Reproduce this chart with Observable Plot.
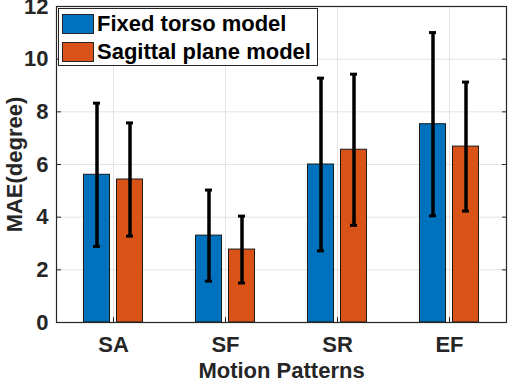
<!DOCTYPE html>
<html><head><meta charset="utf-8">
<script src="https://cdn.jsdelivr.net/npm/d3@7"></script>
<script src="https://cdn.jsdelivr.net/npm/@observablehq/plot@0.6"></script>
<style>
body{margin:0;background:#fff;}
#wrap{position:relative;width:512px;height:380px;font-family:"Liberation Sans",Arial,sans-serif;}
#wrap svg{display:block;}
.legend{position:absolute;left:58px;top:8px;width:260px;height:58px;border:1px solid #262626;background:#fff;box-sizing:border-box;}
.item{position:absolute;left:3px;height:20px;display:flex;align-items:center;font-weight:bold;font-size:22px;color:#000;white-space:nowrap;}
.sw{width:32px;height:20px;border:1px solid #262626;box-sizing:border-box;margin-right:3px;}
</style></head>
<body><div id="wrap"></div>
<script>
const categories = ["SA", "SF", "SR", "EF"];
const seriesNames = ["Fixed torso model", "Sagittal plane model"];
const fixedMean = [5.61, 3.30, 6.00, 7.53];
const fixedSD = [2.72, 1.73, 3.28, 3.48];
const sagittalMean = [5.43, 2.77, 6.56, 6.68];
const sagittalSD = [2.15, 1.27, 2.87, 2.45];
const yTicks = [0, 2, 4, 6, 8, 10, 12];
const colors = ["#0072BD", "#D95319"];

const fixedRows = categories.map((c, i) => ({cat: c, mean: fixedMean[i], lo: fixedMean[i] - fixedSD[i], hi: fixedMean[i] + fixedSD[i]}));
const sagRows = categories.map((c, i) => ({cat: c, mean: sagittalMean[i], lo: sagittalMean[i] - sagittalSD[i], hi: sagittalMean[i] + sagittalSD[i]}));

const font = "Liberation Sans, Arial, sans-serif";
const off = 16.5;
function group(rows, color, dx) {
  return [
    Plot.barY(rows, {x: "cat", y: "mean", fill: color, stroke: "#1a1a1a", strokeWidth: 1, dx, insetLeft: 43, insetRight: 43}),
    Plot.ruleX(rows, {x: "cat", y1: "lo", y2: "hi", stroke: "#000", strokeWidth: 3.5, dx}),
    Plot.tickY(rows, {x: "cat", y: "lo", stroke: "#000", strokeWidth: 3, dx, insetLeft: 52.5, insetRight: 52.5}),
    Plot.tickY(rows, {x: "cat", y: "hi", stroke: "#000", strokeWidth: 3, dx, insetLeft: 52.5, insetRight: 52.5})
  ];
}

const chart = Plot.plot({
  width: 512, height: 380,
  marginLeft: 56, marginRight: 6, marginTop: 6, marginBottom: 58,
  style: {fontFamily: font, fontWeight: "bold", fontSize: "22px", color: "#262626", background: "#fff"},
  x: {domain: categories, padding: 0, label: null},
  y: {domain: [0, 12], label: null},
  marks: [
    Plot.gridY(yTicks, {stroke: "#e3e3e3", strokeOpacity: 1}),
    Plot.gridX(categories, {stroke: "#e3e3e3", strokeOpacity: 1}),
    ...group(fixedRows, colors[0], -off),
    ...group(sagRows, colors[1], off),
    Plot.axisY(yTicks, {anchor: "left", tickSize: -5, tickPadding: 13, stroke: "#262626", fill: "#262626", fontSize: 22, fontWeight: "bold", label: null}),
    Plot.axisY(yTicks, {anchor: "right", tickSize: -5, text: null, stroke: "#262626", label: null}),
    Plot.axisX(categories, {anchor: "bottom", tickSize: -5, tickPadding: 19, stroke: "#262626", fill: "#262626", fontSize: 22, fontWeight: "bold", label: null}),
    Plot.frame({stroke: "#262626", strokeWidth: 1.2}),
    Plot.text(["MAE(degree)"], {frameAnchor: "left", textAnchor: "middle", dx: -42, rotate: -90, fontSize: 22, fontWeight: "bold", fill: "#262626"}),
    Plot.text(["Motion Patterns"], {frameAnchor: "bottom", textAnchor: "middle", lineAnchor: "middle", dy: 48, fontSize: 22, fontWeight: "bold", fill: "#262626"})
  ]
});

const wrap = document.getElementById("wrap");
wrap.appendChild(chart);
const leg = document.createElement("div");
leg.className = "legend";
seriesNames.forEach((name, i) => {
  const it = document.createElement("div");
  it.className = "item";
  it.style.top = (5 + i * 28) + "px";
  const sw = document.createElement("div");
  sw.className = "sw";
  sw.style.background = colors[i];
  const t = document.createElement("span");
  t.textContent = name;
  it.appendChild(sw); it.appendChild(t);
  leg.appendChild(it);
});
wrap.appendChild(leg);
</script>
</body></html>
